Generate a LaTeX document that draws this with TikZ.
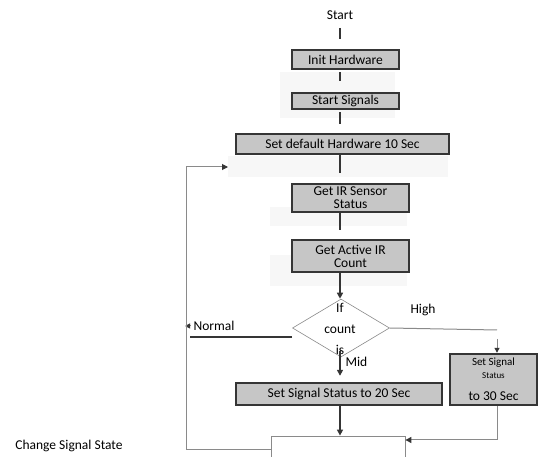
\documentclass[tikz,border=0pt]{standalone}
\usepackage{fontspec}
\setmainfont{Carlito}
\usetikzlibrary{shapes.geometric,arrows.meta}
\definecolor{boxfill}{HTML}{C6C6C6}
\definecolor{boxline}{HTML}{353535}
\definecolor{wire}{HTML}{8A8A8A}
\definecolor{haze}{HTML}{F7F7F7}
\tikzset{
  stepbox/.style={draw=boxline, line width=2.4pt, fill=boxfill, inner sep=0pt, align=center},
  endbox/.style={draw=wire, line width=0.8pt, fill=white, inner sep=0pt},
  decision/.style={draw=wire, line width=0.6pt, fill=white, shape=diamond, inner sep=0pt},
  link/.style={draw=boxline, line width=2.5pt},
  wirelink/.style={draw=wire, line width=1pt},
  tip/.style={-{Triangle[length=6pt,width=6pt,color=boxline]}},
  smalltip/.style={-{Triangle[length=5pt,width=5pt,color=boxline]}}
}

\begin{document}
\begin{tikzpicture}[x=1pt,y=-1pt,font=\fontsize{13.5}{13}\selectfont,text=black]
  \clip (0,0) rectangle (539,457);
  % faint shadows
  \fill[haze] (280,72) rectangle (395,118);
  \fill[haze] (228,156) rectangle (448,177);
  \fill[haze] (270,207) rectangle (407,226);
  \fill[haze] (270,255) rectangle (407,286);

  \node (start) at (340,15) {Start};
  \node[stepbox, minimum width=107pt, minimum height=19pt] (init) at (345.5,59.5) {Init Hardware};
  \node[stepbox, minimum width=107pt, minimum height=16pt] (signals) at (345.5,101) {Start Signals};
  \node[stepbox, minimum width=213pt, minimum height=20pt] (default) at (342.5,144) {Set default Hardware 10 Sec};
  \node[stepbox, minimum width=117pt, minimum height=28pt] (sensor) at (350.5,198) {Get IR Sensor\\Status};
  \node[stepbox, minimum width=117pt, minimum height=32pt] (count) at (350.5,256) {Get Active IR\\Count};
  \node[decision, minimum width=97pt, minimum height=58pt] (check) at (341,328) {};
  \node[align=center, font=\fontsize{13.5}{21}\selectfont] (checktext) at (340,329) {If\\count\\is};
  \node[stepbox, minimum width=206pt, minimum height=22pt] (mid) at (339,394) {Set Signal Status to 20 Sec};
  \node[stepbox, minimum width=87pt, minimum height=51pt] (high) at (493.5,379.5)
    {{\fontsize{11}{12}\selectfont Set Signal}\\{\fontsize{9}{10}\selectfont Status}\\[9pt]to 30 Sec};
  \node[endbox, minimum width=134pt, minimum height=34pt] (change) at (338,453) {};

  \node (changetext) at (69,446) {Change Signal State};
  \node (hightext) at (423,310) {High};
  \node (normaltext) at (214,326) {Normal};
  \node[anchor=west] (midtext) at (342,362) {Mid};

  \coordinate (spine) at (340,0);
  \coordinate (hc) at (497,330);
  \coordinate (rc) at (497,440);
  \coordinate (lb) at (186,450);
  \coordinate (lt) at (186,167);
  \coordinate (le) at (228,167);
  \coordinate (nl) at (190,337);

  % main column
  \draw[link, shorten <=5pt, shorten >=10pt] (start.south) -- (init.north -| spine);
  \draw[link, shorten <=2pt, shorten >=11pt] (init.south -| spine) -- (signals.north -| spine);
  \draw[link, shorten <=2pt, shorten >=9pt] (signals.south -| spine) -- (default.north -| spine);
  \draw[link, shorten >=10pt] (default.south -| spine) -- (sensor.north -| spine);
  \draw[link, shorten >=9pt] (sensor.south -| spine) -- (count.north -| spine);
  \draw[link, tip] (count.south -| spine) -- (check.north -| spine);
  \draw[link, tip, shorten <=-6pt, shorten >=6pt] (check.south -| spine) -- (mid.north -| spine);
  \draw[link, tip] (mid.south -| spine) -- (change.north -| spine);

  % branches
  \draw[wirelink] (check.east) -- (hc);
  \draw[wirelink, smalltip] ([yshift=-9pt]hc) -- (hc |- high.north);
  \draw[wirelink, tip] (high.south -| rc) -- (rc) -- (rc -| change.east);
  \draw[link] ([yshift=-9pt]check.west) -- (nl);
  \draw[wirelink, smalltip] (normaltext.west) -- ++(-5,0);
  \draw[wirelink, tip] (change.west |- lb) -- (lb) -- (lt) -- (le);
\end{tikzpicture}
\end{document}
